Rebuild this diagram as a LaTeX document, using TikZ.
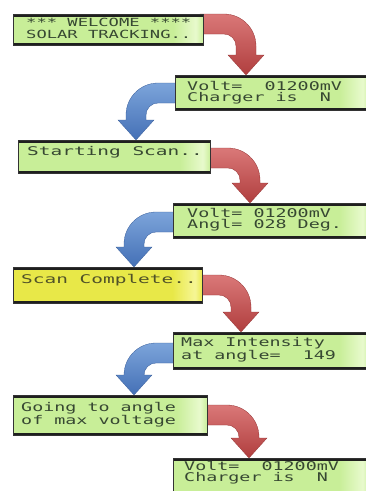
\documentclass[tikz,border=0pt]{standalone}
\usepackage{fontspec}
\usetikzlibrary{calc,backgrounds}
\newfontfamily\lcdfam[FakeStretch=1.53]{DejaVu Sans Mono}
\newfontfamily\lcdwidefam[FakeStretch=1.62]{DejaVu Sans Mono}
\definecolor{lcdg}{RGB}{200,238,152}
\definecolor{lcdh}{RGB}{232,250,205}
\definecolor{yelg}{RGB}{232,232,72}
\definecolor{yelh}{RGB}{246,246,150}
\definecolor{lcdtxt}{RGB}{55,72,50}
\definecolor{yeltxt}{RGB}{80,82,40}
\definecolor{redtop}{RGB}{218,120,120}
\definecolor{redbot}{RGB}{176,62,62}
\definecolor{bluetop}{RGB}{124,164,218}
\definecolor{bluebot}{RGB}{68,112,182}
\pgfdeclarehorizontalshading{lcdshade}{100bp}{color(0bp)=(lcdg); color(25bp)=(lcdg); color(67bp)=(lcdg); color(73bp)=(lcdh); color(75bp)=(lcdg); color(100bp)=(lcdg)}
\pgfdeclarehorizontalshading{yelshade}{100bp}{color(0bp)=(yelg); color(25bp)=(yelg); color(67bp)=(yelg); color(73bp)=(yelh); color(75bp)=(yelg); color(100bp)=(yelg)}
\newcommand\lcdfont{\lcdfam\fontsize{12}{11}\selectfont}
\newcommand\lcdsmall{\lcdfam\fontsize{11.2}{11.5}\selectfont}
\newcommand\lcdwide{\lcdwidefam\fontsize{12}{11}\selectfont}
\newcommand\bendright[3]{%
\path[#1] let \p1=(#2), \p2=(#3) in
 (\x1,\y1) -- ({\x2-22pt},\y1) arc[start angle=90,end angle=0,radius=32pt]
 -- ({\x2+10pt},{\y2+20pt}) -- ({\x2+18pt},{\y2+20pt}) -- (\x2,\y2)
 -- ({\x2-18pt},{\y2+20pt}) -- ({\x2-10pt},{\y2+20pt}) -- ({\x2-10pt},{\y1-32pt})
 arc[start angle=0,end angle=90,radius=12pt] -- (\x1,{\y1-20pt}) -- cycle;}
\newcommand\bendleft[3]{%
\path[#1] let \p1=(#2), \p2=(#3) in
 (\x1,\y1) -- ({\x2+22pt},\y1) arc[start angle=90,end angle=180,radius=32pt]
 -- ({\x2-10pt},{\y2+20pt}) -- ({\x2-18pt},{\y2+20pt}) -- (\x2,\y2)
 -- ({\x2+18pt},{\y2+20pt}) -- ({\x2+10pt},{\y2+20pt}) -- ({\x2+10pt},{\y1-32pt})
 arc[start angle=180,end angle=90,radius=12pt] -- (\x1,{\y1-20pt}) -- cycle;}
\tikzset{
 lcdbox/.style={rectangle, draw=black!80, line width=1pt, shading=lcdshade, inner sep=0pt, anchor=north west,
   path picture={\fill[black!88] (path picture bounding box.north west) rectangle ([yshift=-2.5pt]path picture bounding box.north east);
                 \fill[black!88] (path picture bounding box.south west) rectangle ([yshift=2.5pt]path picture bounding box.south east);}},
 yelbox/.style={lcdbox, shading=yelshade},
 lcdtext/.style={anchor=base west, inner sep=0pt, align=left, text=lcdtxt, font=\lcdfont},
 redarr/.style={top color=redtop, bottom color=redbot, draw=redbot!85!black, line width=0.3pt},
 bluearr/.style={top color=bluetop, bottom color=bluebot, draw=bluebot!85!black, line width=0.3pt},
}
\begin{document}
\begin{tikzpicture}[x=1pt,y=-1pt]
\useasboundingbox (0,0) rectangle (365,491);
% boxes
\node[lcdbox, minimum width=190pt, minimum height=31pt] (b1) at (13,14) {};
\node[lcdbox, minimum width=195pt, minimum height=35pt] (b2) at (175,75) {};
\node[lcdbox, minimum width=192pt, minimum height=33pt] (b3) at (18,140) {};
\node[lcdbox, minimum width=197pt, minimum height=35pt] (b4) at (173,203) {};
\node[yelbox, minimum width=189pt, minimum height=36pt] (b5) at (13,267) {};
\node[lcdbox, minimum width=197pt, minimum height=37pt] (b6) at (173,332) {};
\node[lcdbox, minimum width=194pt, minimum height=40pt] (b7) at (13,395) {};
\node[lcdbox, minimum width=197pt, minimum height=40pt] (b8) at (173,458) {};
% texts (anchored at the baseline of the last line)
\node[lcdtext, font=\lcdsmall] (t1) at (26,38) {***~WELCOME~****\\SOLAR~TRACKING..};
\node[lcdtext] (t2) at (187,101.5) {Volt=~~01200mV\\Charger~is~~N};
\node[lcdtext, font=\lcdwide] (t3) at (27,155.5) {Starting~Scan..};
\node[lcdtext, font=\lcdfam\fontsize{12}{10.8}\selectfont] (t4) at (187,228) {Volt=~01200mV\\Angl=~028~Deg.};
\node[lcdtext, font=\lcdwide, text=yeltxt] (t5) at (21,283.5) {Scan~Complete..};
\node[lcdtext] (t6) at (181,359.5) {Max~Intensity\\at~angle=~~149};
\node[lcdtext] (t7) at (21,424) {Going~to~angle\\of~max~voltage};
\node[lcdtext] (t8) at (184,481.5) {Volt=~~01200mV\\Charger~is~~N};
% arrow anchor points
\coordinate (r1s) at (200,14);  \coordinate (r1t) at (246,75);
\coordinate (r2s) at (207,148); \coordinate (r2t) at (250,203);
\coordinate (r3s) at (199,275); \coordinate (r3t) at (241,332);
\coordinate (r4s) at (204,405); \coordinate (r4t) at (249,458);
\coordinate (u1s) at (178,83);  \coordinate (u1t) at (136,140);
\coordinate (u2s) at (176,212); \coordinate (u2t) at (134,267);
\coordinate (u3s) at (176,343); \coordinate (u3t) at (134,395);
\begin{scope}[on background layer]
\bendright{redarr}{r1s}{r1t}
\bendright{redarr}{r2s}{r2t}
\bendright{redarr}{r3s}{r3t}
\bendright{redarr}{r4s}{r4t}
\bendleft{bluearr}{u1s}{u1t}
\bendleft{bluearr}{u2s}{u2t}
\bendleft{bluearr}{u3s}{u3t}
\end{scope}
\end{tikzpicture}
\end{document}
